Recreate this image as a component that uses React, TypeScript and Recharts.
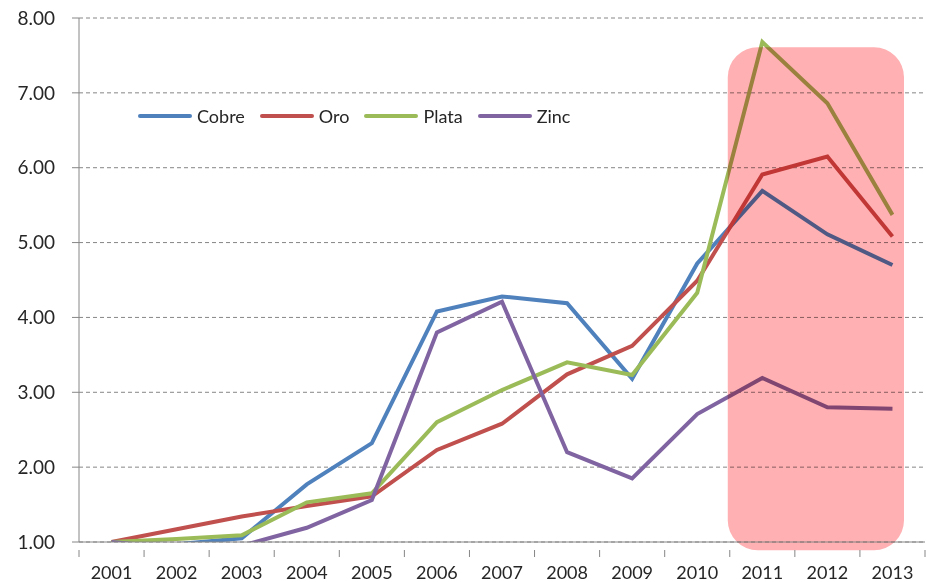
import React from "react";
import {
  LineChart, Line, XAxis, YAxis, CartesianGrid, Legend, ReferenceArea,
} from "recharts";

const YEARS = ["2001", "2002", "2003", "2004", "2005", "2006", "2007", "2008", "2009", "2010", "2011", "2012", "2013"];
const COBRE = [1.0, 0.97, 1.05, 1.77, 2.32, 4.08, 4.28, 4.19, 3.18, 4.72, 5.69, 5.11, 4.70];
const ORO = [1.0, 1.17, 1.34, 1.48, 1.61, 2.23, 2.58, 3.24, 3.62, 4.49, 5.91, 6.15, 5.08];
const PLATA = [1.0, 1.04, 1.09, 1.53, 1.65, 2.60, 3.03, 3.40, 3.23, 4.33, 7.68, 6.86, 5.37];
const ZINC = [1.0, 0.92, 0.95, 1.19, 1.56, 3.80, 4.21, 2.20, 1.85, 2.71, 3.19, 2.80, 2.78];
const Y_TICKS = [1, 2, 3, 4, 5, 6, 7, 8];

const SERIES = [
  { key: "Cobre", values: COBRE, color: "#4F81BD" },
  { key: "Oro", values: ORO, color: "#C0504D" },
  { key: "Plata", values: PLATA, color: "#9BBB59" },
  { key: "Zinc", values: ZINC, color: "#8064A2" },
];

const data = YEARS.map((year, i) => {
  const row: Record<string, string | number> = { year };
  SERIES.forEach(s => { row[s.key] = s.values[i]; });
  return row;
});

const FONT = "Lato, 'Noto Sans', sans-serif";
const AXIS_GRAY = "#868686";
const TEXT = "#262626";

// category labels centred, tick marks between categories (Excel style)
const XTick = (props: any) => {
  const { x, y, payload, index, visibleTicksCount } = props;
  const half = payload?.offset || 32.5;
  return (
    <g>
      <line x1={x - half} x2={x - half} y1={y} y2={y + 7} stroke={AXIS_GRAY} />
      {index === visibleTicksCount - 1 && (
        <line x1={x + half} x2={x + half} y1={y} y2={y + 7} stroke={AXIS_GRAY} />
      )}
      <text x={x} y={y + 29} textAnchor="middle" fontSize={18} fill={TEXT} fontFamily={FONT}>
        {payload.value}
      </text>
    </g>
  );
};

const LegendContent = (props: any) => (
  <div style={{ display: "flex", alignItems: "center", fontFamily: FONT, fontSize: 18, color: TEXT }}>
    {props.payload.map((p: any) => (
      <div key={p.value} style={{ display: "flex", alignItems: "center", marginRight: 15 }}>
        <div style={{ width: 54, height: 4, borderRadius: 2, background: p.color, marginRight: 5 }} />
        <span>{p.value}</span>
      </div>
    ))}
  </div>
);

const Highlight = (props: any) => {
  const { x, y, width, height } = props;
  return (
    <rect
      x={x - 2} y={y} width={width - 19} height={height}
      rx={30} ry={30} fill="#FFB0B2"
      style={{ mixBlendMode: "multiply" }}
    />
  );
};

export default function App() {
  return (
    <div style={{ position: "absolute", left: 0, top: 0, width: 926, height: 582, background: "#fff" }}>
      <LineChart width={926} height={582} data={data} margin={{ top: 18, right: 1, bottom: 10, left: 0 }}>
        <CartesianGrid horizontal vertical={false} stroke={AXIS_GRAY} strokeDasharray="4 3" />
        <XAxis
          dataKey="year" scale="band" height={30} stroke={AXIS_GRAY} tickLine={false}
          tick={<XTick />} interval={0}
        />
        <YAxis
          width={79} domain={[1, 8]} ticks={Y_TICKS} allowDataOverflow
          stroke={AXIS_GRAY} tickSize={7} tickMargin={17}
          tickFormatter={(v: number) => v.toFixed(2)}
          tick={{ fontSize: 19, fill: TEXT, fontFamily: FONT }}
        />
        <Legend
          layout="horizontal" verticalAlign="middle" align="center"
          wrapperStyle={{ top: 105, left: 138, width: "auto" }}
          content={<LegendContent />}
        />
        {SERIES.map(s => (
          <Line
            key={s.key} type="linear" dataKey={s.key} stroke={s.color} strokeWidth={4}
            dot={false} activeDot={false} isAnimationActive={false}
          />
        ))}
        <ReferenceArea
          x1="2011" x2="2013" y1={7.61} y2={0.89} ifOverflow="visible"
          shape={<Highlight />} zIndex={450}
        />
      </LineChart>
    </div>
  );
}
